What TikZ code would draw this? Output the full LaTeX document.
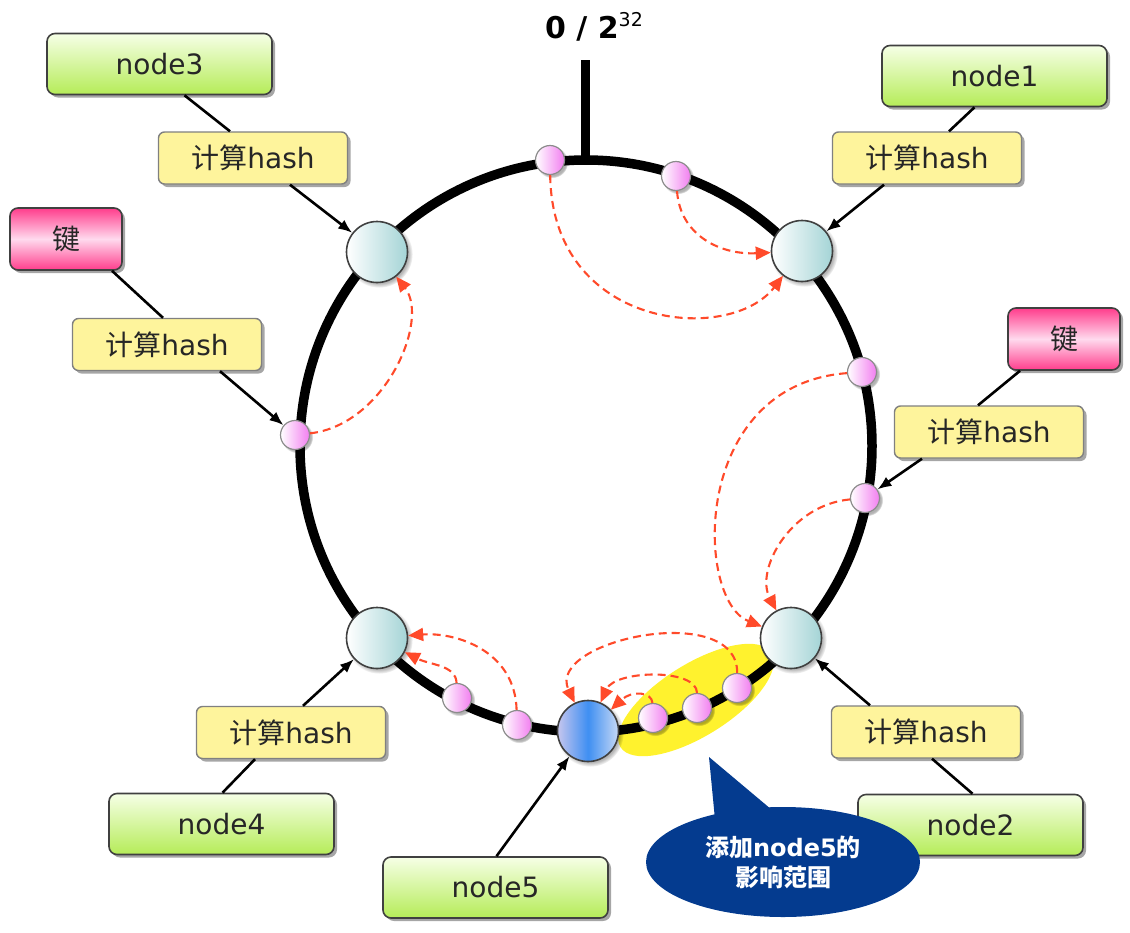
\documentclass[tikz,border=0pt]{standalone}
\usepackage{fontspec}
\setmainfont{DejaVu Sans}
\newfontfamily\cjk{Noto Sans CJK SC}
\usetikzlibrary{arrows.meta,shapes.geometric,shadows}
\definecolor{greentop}{HTML}{F6FFE6}
\definecolor{greenbot}{HTML}{B5EC58}
\definecolor{hashfill}{HTML}{FEF49C}
\definecolor{keypink}{HTML}{FF3D8C}
\definecolor{keylight}{HTML}{FFDAEE}
\definecolor{ringcyan}{HTML}{A4D4D6}
\definecolor{newleft}{HTML}{C6C6EE}
\definecolor{newmid}{HTML}{3F8FF2}
\definecolor{newright}{HTML}{C7D9F5}
\definecolor{dotpink}{HTML}{F27EF0}
\definecolor{calloutblue}{HTML}{043B8F}
\definecolor{hlyellow}{HTML}{FFF22E}
\definecolor{remapred}{HTML}{FF4A2A}
\begin{document}
\begin{tikzpicture}[x=1pt,y=-1pt,
  boxshadow/.style={drop shadow={shadow xshift=3pt,shadow yshift=-3pt,fill=black,opacity=0.35}},
  nodebox/.style={draw=black!75, line width=1.6pt, rounded corners=8pt,
    top color=greentop, bottom color=greenbot, minimum width=225pt, minimum height=61pt,
    inner sep=0pt, font=\fontsize{28}{32}\selectfont, text=black!85, boxshadow},
  hashbox/.style={draw=black!50, line width=1.4pt, rounded corners=6pt, fill=hashfill,
    minimum width=189pt, minimum height=52pt, inner sep=0pt,
    font=\fontsize{28}{32}\selectfont, text=black!85, boxshadow},
  keybox/.style={draw=black!75, line width=1.6pt, rounded corners=8pt,
    top color=keypink, bottom color=keypink, middle color=keylight,
    minimum width=112pt, minimum height=62pt, inner sep=0pt,
    font=\cjk\fontsize{28}{32}\selectfont, text=black!85, boxshadow},
  ringnode/.style={circle, draw=black!75, line width=1.6pt, left color=white, right color=ringcyan,
    minimum size=61pt, inner sep=0pt,
    circular drop shadow={shadow xshift=2pt,shadow yshift=-2pt,fill=black,opacity=0.3}},
  newnode/.style={circle, draw=black!75, line width=1.6pt, left color=newleft, right color=newright,
    middle color=newmid, minimum size=61pt, inner sep=0pt,
    circular drop shadow={shadow xshift=2pt,shadow yshift=-2pt,fill=black,opacity=0.3}},
  keydot/.style={circle, draw=black!45, line width=1.2pt, left color=white, right color=dotpink,
    minimum size=29pt, inner sep=0pt,
    circular drop shadow={shadow xshift=2pt,shadow yshift=-2pt,fill=black,opacity=0.3}},
  remap/.style={draw=remapred, line width=2.1pt, dash pattern=on 8pt off 5pt,
    -{Triangle[length=15pt,width=13pt]}},
  feed/.style={draw=black, line width=2.6pt, -{Latex[length=14pt,width=11pt]}},
  link/.style={draw=black, line width=2.6pt}
]
\useasboundingbox (0,0) rectangle (1130,932);

% highlight of affected range
\node[ellipse, fill=hlyellow, minimum width=178pt, minimum height=72pt, rotate=32] (hl) at (696,700) {};

% ring and zero mark
\draw[line width=9.5pt] (586,446) circle[radius=286pt];
\coordinate (ticktop) at (585,60);
\coordinate (tickbot) at (585,160);
\draw[line width=9pt] (ticktop) -- (tickbot);
\node[font=\bfseries\fontsize{30}{34}\selectfont, anchor=base] (zero) at (594,38)
  {0 / 2\raisebox{12pt}{\mdseries\fontsize{19}{20}\selectfont 32}};

% server nodes on ring
\node[ringnode] (n3c) at (377,252) {};
\node[ringnode] (n1c) at (802,251) {};
\node[ringnode] (n2c) at (791,638) {};
\node[ringnode] (n4c) at (377,638) {};
\node[newnode]  (n5c) at (588,731) {};

% keys on ring
\node[keydot] (s1) at (550,160) {};
\node[keydot] (s2) at (676,176) {};
\node[keydot] (s3) at (862,372) {};
\node[keydot] (s4) at (865,498) {};
\node[keydot] (s5) at (295,435) {};
\node[keydot] (s6) at (457,698) {};
\node[keydot] (s7) at (517,725) {};
\node[keydot] (s8) at (653,718) {};
\node[keydot] (s9) at (697,708) {};
\node[keydot] (s10) at (737,688) {};

% remapping arrows
\draw[remap] (s1) .. controls (552,330) and (730,345) .. (n1c);
\draw[remap] (s2) .. controls (680,235) and (720,255) .. (n1c);
\draw[remap] (s5) .. controls (385,425) and (430,320) .. (n3c);
\draw[remap] (s3) .. controls (690,385) and (695,600) .. (n2c);
\draw[remap] (s4) .. controls (790,505) and (755,570) .. (n2c);
\draw[remap] (s10) .. controls (738,600) and (545,640) .. (n5c);
\draw[remap] (s9) .. controls (697,668) and (615,670) .. (n5c);
\draw[remap] (s8) .. controls (652,692) and (632,690) .. (n5c);
\draw[remap] (s7) .. controls (515,650) and (455,632) .. (n4c);
\draw[remap] (s6) .. controls (456,665) and (430,665) .. (n4c);

% label boxes
\node[nodebox] (n3box) at (159.5,64) {node3};
\node[hashbox] (h3) at (253,158) {{\cjk 计算}hash};
\node[keybox] (keyL) at (66,239) {键};
\node[hashbox] (hL) at (167,344.5) {{\cjk 计算}hash};
\node[nodebox] (n1box) at (994.5,76) {node1};
\node[hashbox] (h1) at (927,158) {{\cjk 计算}hash};
\node[keybox] (keyR) at (1064,339) {键};
\node[hashbox] (hR) at (989,432) {{\cjk 计算}hash};
\node[hashbox] (h2) at (926,732) {{\cjk 计算}hash};
\node[nodebox] (n2box) at (970.5,825) {node2};
\node[hashbox] (h4) at (291,732.5) {{\cjk 计算}hash};
\node[nodebox] (n4box) at (221.5,824) {node4};
\node[nodebox] (n5box) at (495.5,887.5) {node5};

% connectors
\draw[link] ([xshift=25pt]n3box.south) -- ([xshift=-23pt]h3.north);
\draw[feed] ([xshift=37pt]h3.south) -- (n3c);
\draw[link] ([xshift=46pt]keyL.south) -- ([xshift=-4pt]hL.north);
\draw[feed] ([xshift=53pt]hL.south) -- (s5);
\draw[link] ([xshift=-20pt]n1box.south) -- ([xshift=22pt]h1.north);
\draw[feed] ([xshift=-43pt]h1.south) -- (n1c);
\draw[link] ([xshift=-44pt]keyR.south) -- ([xshift=-11pt]hR.north);
\draw[feed] ([xshift=-67pt]hR.south) -- (s4);
\draw[feed] ([xshift=-56pt]h2.north) -- (n2c);
\draw[link] ([xshift=6pt]h2.south) -- ([xshift=2pt]n2box.north);
\draw[link] ([xshift=1pt]n4box.north) -- ([xshift=-36pt]h4.south);
\draw[feed] ([xshift=12pt]h4.north) -- (n4c);
\draw[feed] ([xshift=1pt]n5box.north) -- (n5c);

% callout
\coordinate (ctip) at (709,757);
\fill[calloutblue] (ctip) -- (716,830) -- (778,815) -- cycle;
\node[ellipse, fill=calloutblue, minimum width=274pt, minimum height=110pt, inner sep=0pt,
  text=white, align=center, font=\bfseries\fontsize{24}{30}\selectfont] (callout) at (783,862)
  {{\cjk 添加}node5{\cjk 的}\\{\cjk 影响范围}};
\end{tikzpicture}
\end{document}
